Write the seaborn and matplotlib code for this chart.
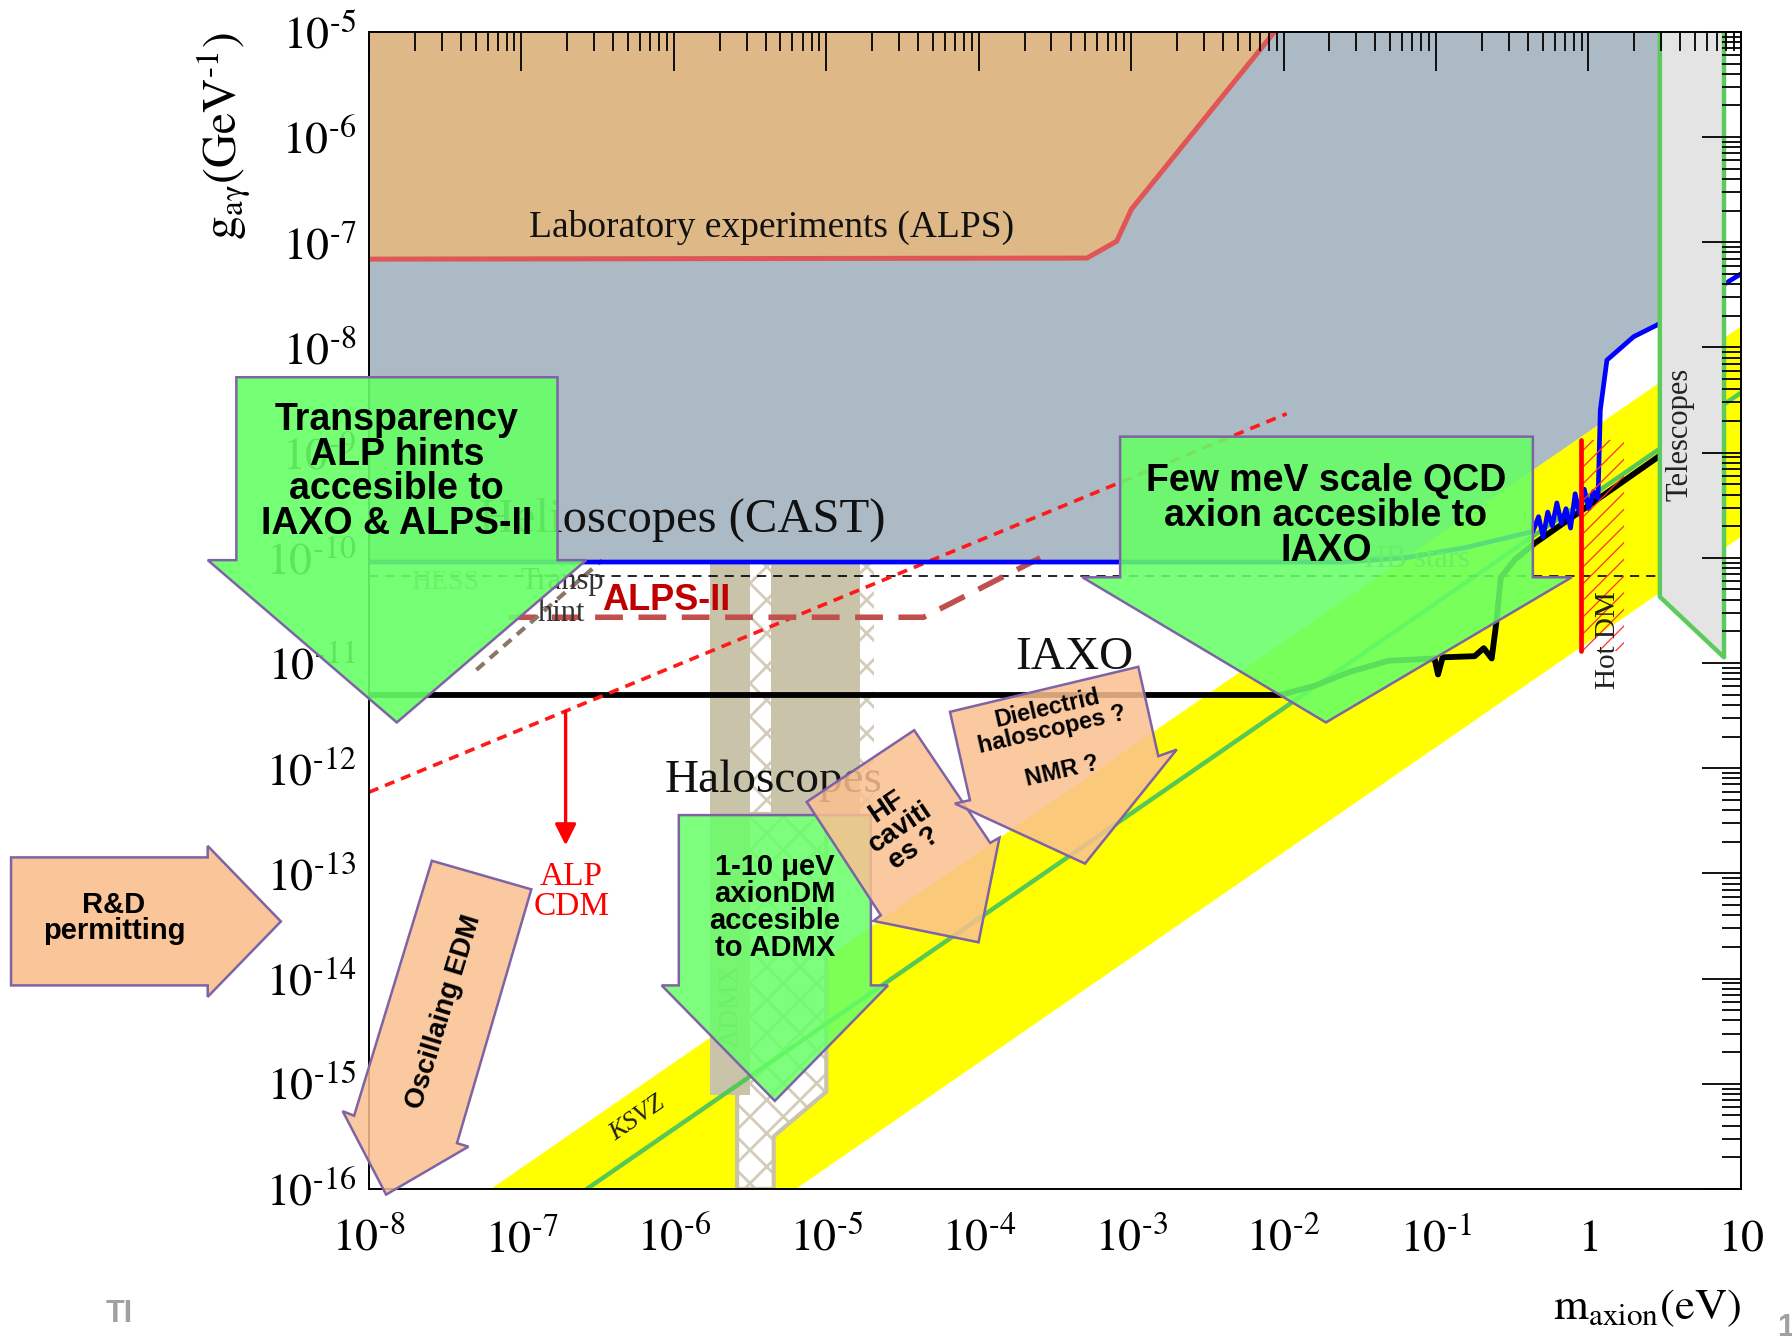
import numpy as np
import pandas as pd
import matplotlib
matplotlib.use("Agg")
import matplotlib.pyplot as plt
from matplotlib.patches import Polygon
from matplotlib.colors import to_rgba
from matplotlib.ticker import FixedLocator, FixedFormatter, LogLocator, NullFormatter
import seaborn as sns

# ---------------------------------------------------------------
# Axion / ALP parameter space.  All curves are stored as log10 values
# (mass in eV, coupling g_ag in GeV^-1).
# ---------------------------------------------------------------
lab_logm = [-8.0, -3.29, -3.095, -2.998, -2.06]
lab_logg = [-7.16, -7.15, -6.99, -6.685, -5.0]

cast_logm = [-8.0, -1.6, -1.2, -0.8, -0.365, -0.3275, -0.2975, -0.2675, -0.2375,
             -0.2075, -0.1775, -0.1475, -0.1175, -0.0875, -0.0575, -0.0275, 0.0025,
             0.0325, 0.0625, 0.0775, 0.121, 0.296, 0.449, 0.889, 1.0]
cast_logg = [-10.04, -10.04, -10.0, -9.9, -9.75, -9.609, -9.804, -9.565, -9.696,
             -9.478, -9.674, -9.533, -9.717, -9.391, -9.587, -9.348, -9.533,
             -9.37, -9.435, -8.595, -8.12, -7.898, -7.787, -7.40, -7.30]

iaxo_logm = [-8.0, -2.022, -1.797, -1.572, -1.31, -1.01, -0.987, -0.957, -0.747,
             -0.687, -0.635, -0.605, -0.575, -0.485, -0.35, 0.475]
iaxo_logg = [-11.304, -11.304, -11.217, -11.087, -10.978, -10.957, -11.109, -10.946,
             -10.935, -10.859, -10.957, -10.62, -10.185, -10.02, -9.859, -9.022]

hb_logm = [-8.0, 0.47]
hb_logg = [-10.17, -10.17]

alpcdm_logm = [-8.0, -1.98]
alpcdm_logg = [-12.228, -8.63]

alps2_logm = [-7.085, -4.362, -3.597]
alps2_logg = [-10.565, -10.565, -10.0]

hint_logm = [-7.295, -6.47]
hint_logg = [-11.065, -10.022]

# QCD axion band edges and KSVZ model line
band_upper_logm = [-7.2, 1.0]
band_upper_logg = [-16.0, -7.8]
band_lower_logm = [-5.2, 1.0]
band_lower_logg = [-16.0, -9.8]
ksvz_logm = [-6.57, 1.0]
ksvz_logg = [-16.0, -8.43]

# Haloscope bands
halo_top_logg = -10.04
halo_solid_logm = [(-5.765, -5.503), (-5.36, -4.782)]
halo_solid_bottom = [-15.11, -12.435]
halo_hatch_logm = [(-5.503, -5.36), (-4.782, -4.685)]
halo_hatch_bottom = [-12.435, -12.435]
admx_logm = [-5.585, -5.0, -5.0, -5.345, -5.345, -5.585]
admx_logg = [-12.435, -12.435, -15.076, -15.5, -16.0, -16.0]

# Hot dark matter bound
hotdm_logm = -0.05
hotdm_hatch_logm = [-0.05, 0.23]
hotdm_logg = [-10.89, -8.88]

# Telescope region
tele_logm = [0.468, 0.468, 0.889, 0.889]
tele_logg = [-5.0, -10.37, -10.946, -5.0]

# ALP cold dark matter arrow
alp_arrow_logm = -6.71
alp_arrow_logg = [-11.435, -12.76]

# Prospect arrows (outline vertices, log10 coordinates)
transp_arrow = [(-8.87, -8.283), (-6.763, -8.283), (-6.763, -10.022), (-6.575, -10.022),
                (-7.8175, -11.565), (-9.0575, -10.022), (-8.87, -10.022)]
mev_arrow = [(-3.0725, -8.848), (-0.365, -8.848), (-0.365, -10.185), (-0.11, -10.185),
             (-1.7225, -11.565), (-3.32, -10.185), (-3.0725, -10.185)]
admx_arrow = [(-5.9675, -12.446), (-4.7075, -12.446), (-4.7075, -14.065), (-4.595, -14.065),
              (-5.3375, -15.163), (-6.08, -14.065), (-5.9675, -14.065)]
rd_arrow = [(-10.348, -12.848), (-9.058, -12.848), (-9.058, -12.739), (-8.578, -13.457),
            (-9.058, -14.174), (-9.058, -14.065), (-10.348, -14.065)]
edm_arrow = [(-7.5875, -12.88), (-6.935, -13.152), (-7.4225, -15.565), (-7.3475, -15.598),
             (-7.8875, -16.054), (-8.1725, -15.261), (-8.0975, -15.304)]
hf_arrow = [(-4.4235, -11.639), (-3.9248, -12.71), (-3.864, -12.66), (-4.0013, -13.655),
            (-4.6905, -13.452), (-4.6425, -13.398), (-5.1285, -12.32)]
diel_arrow = [(-4.1885, -11.464), (-2.9533, -11.036), (-2.822, -11.886), (-2.7013, -11.823),
              (-3.3028, -12.907), (-4.1563, -12.336), (-4.0577, -12.304)]

x_ticks = [1e-8, 1e-7, 1e-6, 1e-5, 1e-4, 1e-3, 1e-2, 1e-1, 1, 10]
x_ticklabels = [r"$10^{\text{-8}}$", r"$10^{\text{-7}}$", r"$10^{\text{-6}}$",
                r"$10^{\text{-5}}$", r"$10^{\text{-4}}$", r"$10^{\text{-3}}$",
                r"$10^{\text{-2}}$", r"$10^{\text{-1}}$", r"$1$", r"$10$"]
y_ticks = [10.0 ** e for e in range(-16, -4)]
y_ticklabels = [r"$10^{\text{%d}}$" % e for e in range(-16, -4)]


def p(v):
    return 10.0 ** np.asarray(v, dtype=float)


# ---------------------------------------------------------------
sns.set_theme(style="white")
plt.rcParams["font.family"] = ["Liberation Serif", "DejaVu Serif"]
plt.rcParams["mathtext.fontset"] = "stix"
plt.rcParams["text.color"] = "black"
plt.rcParams["axes.labelcolor"] = "black"

GRAY = "#ABBAC5"
TAN = "#DEB987"
HALO = "#C9C3A9"
HATCH = "#D2CCB8"
GREEN_LINE = "#55C855"
PURPLE = "#7F63A5"

fig = plt.figure(figsize=(17.92, 13.41), dpi=100)
ax = fig.add_axes([0.2059, 0.1134, 0.7656, 0.8628])
ax.set_xscale("log")
ax.set_yscale("log")
ax.set_xlim(1e-8, 10)
ax.set_ylim(1e-16, 1e-5)
ax.grid(False)

# excluded regions
mask = np.array(cast_logm) <= 0.889
ax.fill_between(p(cast_logm)[mask], p(cast_logg)[mask], 1e-5, color=GRAY, lw=0, zorder=1)
ax.fill_between(p(lab_logm), p(lab_logg), 1e-5, color=TAN, lw=0, zorder=1.1)

# QCD axion band
band_x = p(band_upper_logm + band_lower_logm[::-1])
band_y = p(band_upper_logg + band_lower_logg[::-1])
ax.fill(band_x, band_y, color="#FFFF00", lw=0, zorder=2)

# haloscopes
plt.rcParams["hatch.linewidth"] = 2.0
for (a, b), bot in zip(halo_hatch_logm, halo_hatch_bottom):
    ax.fill(p([a, b, b, a]), p([halo_top_logg, halo_top_logg, bot, bot]),
            facecolor="white", edgecolor=HATCH, hatch="x", lw=0, zorder=2.4)
ax.fill(p(admx_logm), p(admx_logg), facecolor="white", edgecolor=HATCH, hatch="x",
        lw=0, zorder=2.4)
ax.plot(p(admx_logm + admx_logm[:1]), p(admx_logg + admx_logg[:1]), color=HALO, lw=3,
        zorder=2.45)
for (a, b), bot in zip(halo_solid_logm, halo_solid_bottom):
    ax.fill(p([a, b, b, a]), p([halo_top_logg, halo_top_logg, bot, bot]),
            color=HALO, lw=0, zorder=2.5)

# model line and limits
sns.lineplot(x=p(ksvz_logm), y=p(ksvz_logg), ax=ax, color=GREEN_LINE, lw=3.2, zorder=3)
ax.plot(p(hb_logm), p(hb_logg), color="black", lw=1.2, ls=(0, (5.5, 4.2)), zorder=3.2)
sns.lineplot(x=p(iaxo_logm), y=p(iaxo_logg), ax=ax, color="black", lw=4.2,
             sort=False, estimator=None, zorder=3.4)
ax.plot(p(alpcdm_logm), p(alpcdm_logg), color="#FF1A1A", lw=2.6, ls=(0, (2.8, 2.0)),
        zorder=3.5)
ax.plot(p(alps2_logm), p(alps2_logg), color="#C0504D", lw=4.0, ls=(0, (5, 2.8)), zorder=3.6)
ax.plot(p(hint_logm), p(hint_logg), color="#8B7765", lw=3.0, ls=(0, (2.5, 1.8)), zorder=3.7)
sns.lineplot(x=p(cast_logm), y=p(cast_logg), ax=ax, color="#0000FF", lw=3.4,
             sort=False, estimator=None, zorder=3.8)
sns.lineplot(x=p(lab_logm), y=p(lab_logg), ax=ax, color="#E05555", lw=3.6,
             sort=False, estimator=None, zorder=3.9)

# hot dark matter
plt.rcParams["hatch.linewidth"] = 0.9
a, b = hotdm_hatch_logm
ax.fill(p([a, b, b, a]), p([hotdm_logg[0], hotdm_logg[0], hotdm_logg[1], hotdm_logg[1]]),
        facecolor="none", edgecolor="#FF3030", hatch="//", lw=0, zorder=4)
ax.plot(p([hotdm_logm, hotdm_logm]), p(hotdm_logg), color="#FF0000", lw=3.4, zorder=4.1)

# telescopes
ax.fill(p(tele_logm), p(tele_logg), color="#E4E4E4", lw=0, zorder=5)
ax.plot(p(tele_logm), p(tele_logg), color="#5CCB5C", lw=3.2, zorder=5.1)

# ALP CDM arrow
ax.annotate("", xy=(p(alp_arrow_logm), p(alp_arrow_logg[1])),
            xytext=(p(alp_arrow_logm), p(alp_arrow_logg[0])),
            arrowprops=dict(arrowstyle="-|>", color="red", lw=2.4, mutation_scale=32),
            zorder=4.2)

# region labels
def lab(lm, lg, s, **kw):
    kw.setdefault("color", "black")
    ax.text(p(lm), p(lg), s, ha="center", va="center", zorder=6, **kw)

lab(-5.36, -6.86, "Laboratory experiments (ALPS)", fontsize=27, color="#111111")
lab(-5.945, -9.64, "Helioscopes (CAST)", fontsize=35, color="#111111")
lab(-3.3725, -10.95, "IAXO", fontsize=34, color="#111111")
lab(-5.345, -12.12, "Haloscopes", fontsize=34, color="#111111")
lab(0.6025, -8.826, "Telescopes", fontsize=22, rotation=90, color="#222222")
lab(0.13, -10.783, "Hot DM", fontsize=21, rotation=90, color="#222222")
lab(-6.6725, -13.174, "ALP\nCDM", fontsize=24, color="#FF0000", linespacing=0.95)
lab(-1.1225, -10.02, "HB stars", fontsize=22, color="#777777")
lab(-7.4975, -10.239, "HESS", fontsize=20, color="#888888")
lab(-6.7325, -10.228, "Transp", fontsize=22, color="#333333")
lab(-6.74, -10.533, "hint", fontsize=22, color="#333333")
lab(-5.6225, -14.261, "ADMX", fontsize=20, rotation=90, color="#A09A85")
lab(-6.24, -15.33, "KSVZ", fontsize=19, rotation=34.6, style="italic", color="#222222")
lab(-6.05, -10.402, "ALPS-II", fontsize=26, color="#C00000", fontweight="bold",
    family=["Liberation Sans", "DejaVu Sans"])

# axes styling
ax.xaxis.set_major_locator(FixedLocator(x_ticks))
ax.xaxis.set_major_formatter(FixedFormatter(x_ticklabels))
ax.yaxis.set_major_locator(FixedLocator(y_ticks))
ax.yaxis.set_major_formatter(FixedFormatter(y_ticklabels))
ax.xaxis.set_minor_locator(LogLocator(base=10, subs=np.arange(2, 10), numticks=30))
ax.yaxis.set_minor_locator(LogLocator(base=10, subs=np.arange(2, 10), numticks=30))
ax.xaxis.set_minor_formatter(NullFormatter())
ax.yaxis.set_minor_formatter(NullFormatter())
ax.tick_params(which="both", direction="in", top=True, right=True, colors="black",
               width=1.3)
ax.tick_params(which="major", length=28)
ax.tick_params(which="minor", length=14)
ax.tick_params(axis="x", which="major", labelsize=33, pad=21)
ax.tick_params(axis="y", which="major", labelsize=33, pad=9)
for sp in ax.spines.values():
    sp.set_visible(True)
    sp.set_color("black")
    sp.set_linewidth(1.4)
    sp.set_zorder(20)
ax.xaxis.set_zorder(20)
ax.yaxis.set_zorder(20)

ax.text(-0.106, 1.0, r"$\mathrm{g_{a\gamma}(GeV^{\text{-1}})}$", transform=ax.transAxes,
        rotation=90, ha="center", va="top", fontsize=34)
ax.text(1.0, -0.103, r"$\mathrm{m_{axion}(eV)}$", transform=ax.transAxes,
        ha="right", va="center", fontsize=32)

# prospect arrows drawn above everything, including tick labels
overlay = fig.add_axes([0, 0, 1, 1])
overlay.set_zorder(10)
overlay.axis("off")

SANS = ["Liberation Sans", "DejaVu Sans"]


def arrow(pts, face, alpha):
    verts = [(10.0 ** a, 10.0 ** b) for a, b in pts]
    overlay.add_patch(Polygon(verts, closed=True, transform=ax.transData,
                              facecolor=to_rgba(face, alpha), edgecolor=PURPLE,
                              lw=1.8, clip_on=False))


def note(lm, lg, s, size, rot=0, ls=0.95):
    overlay.text(10.0 ** lm, 10.0 ** lg, s, transform=ax.transData, ha="center",
                 va="center", fontsize=size, fontweight="bold", family=SANS,
                 color="black", rotation=rot, rotation_mode="anchor", linespacing=ls,
                 multialignment="center", clip_on=False)


GREEN = "#66FF66"
PEACH = "#FAC090"
arrow(transp_arrow, GREEN, 0.9)
arrow(mev_arrow, GREEN, 0.88)
arrow(admx_arrow, GREEN, 0.85)
arrow(rd_arrow, PEACH, 0.92)
arrow(edm_arrow, PEACH, 0.85)
arrow(hf_arrow, PEACH, 0.85)
arrow(diel_arrow, PEACH, 0.85)

note(-7.8175, -9.185, "Transparency\nALP hints\naccesible to\nIAXO & ALPS-II", 27)
note(-1.7225, -9.603, "Few meV scale QCD\naxion accesible to\nIAXO", 27)
note(-5.3375, -13.326, "1-10 μeV\naxionDM\naccesible\nto ADMX", 21)
note(-9.673, -13.424, "R&D\npermitting", 21)
note(-7.505, -14.315, "Oscillaing EDM", 20, rot=73)
note(-4.513, -12.565, "HF\ncaviti\nes ?", 20, rot=34)
note(-3.5375, -11.533, "Dielectrid\nhaloscopes ?", 17, rot=13)
note(-3.455, -12.033, "NMR ?", 17, rot=13)

fig.text(0.059, 0.02, "TI", color="#A0A0A0", fontsize=22, fontweight="bold",
         family=SANS, ha="left", va="center")
fig.text(0.9916, 0.0097, "1", color="#A0A0A0", fontsize=22, fontweight="bold",
         family=SANS, ha="left", va="center")

fig.savefig("out.png", dpi=100, facecolor="white")
